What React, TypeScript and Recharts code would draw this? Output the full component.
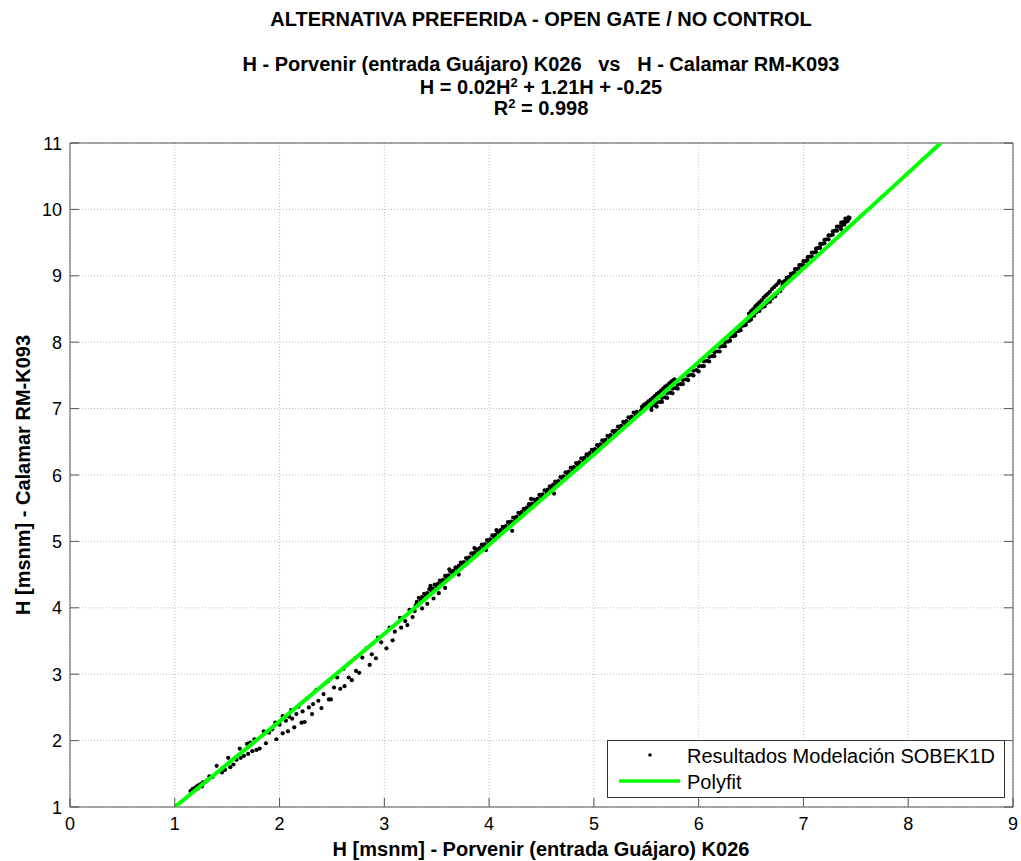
import React from "react";
import { ScatterChart, Scatter, XAxis, YAxis, CartesianGrid } from "recharts";

const W = 1021;
const H = 861;
const FONT = "'Liberation Sans', Arial, sans-serif";

const xTicks = [0, 1, 2, 3, 4, 5, 6, 7, 8, 9];
const yTicks = [1, 2, 3, 4, 5, 6, 7, 8, 9, 10, 11];

const titleMain = "ALTERNATIVA PREFERIDA - OPEN GATE / NO CONTROL";
const titleSeries = "H - Porvenir (entrada Guájaro) K026   vs   H - Calamar RM-K093";
const xLabel = "H [msnm] - Porvenir (entrada Guájaro) K026";
const yLabel = "H [msnm] - Calamar RM-K093";
const seriesPoints = "Resultados Modelación SOBEK1D";
const seriesFit = "Polyfit";

// sparse low-water cloud (two branches)
const lowCloud: [number, number][] = [
  [1.15, 1.24], [1.17, 1.27], [1.19, 1.29], [1.21, 1.31], [1.23, 1.33], [1.25, 1.35],
  [1.27, 1.37], [1.29, 1.38], [1.31, 1.4], [1.22, 1.28], [1.26, 1.31], [1.33, 1.46],
  [1.36, 1.45], [1.4, 1.62], [1.45, 1.52], [1.48, 1.56], [1.51, 1.74], [1.53, 1.6],
  [1.56, 1.64], [1.59, 1.71], [1.62, 1.88], [1.63, 1.74], [1.66, 1.77], [1.69, 1.95],
  [1.7, 1.8], [1.72, 1.97], [1.74, 1.84], [1.76, 2.02], [1.78, 1.86], [1.81, 1.88],
  [1.85, 2.14], [1.87, 1.96], [1.9, 2.12], [1.93, 2.17], [1.96, 2.27], [1.97, 2.02],
  [2.0, 2.24], [2.03, 2.37], [2.03, 2.11], [2.06, 2.3], [2.08, 2.14], [2.09, 2.36],
  [2.11, 2.46], [2.12, 2.33], [2.14, 2.2], [2.16, 2.4], [2.18, 2.51], [2.21, 2.27],
  [2.22, 2.44], [2.24, 2.28], [2.26, 2.63], [2.28, 2.5], [2.31, 2.4], [2.32, 2.55],
  [2.35, 2.76], [2.37, 2.6], [2.4, 2.49], [2.42, 2.7], [2.46, 2.89], [2.47, 2.62],
  [2.49, 2.62], [2.52, 2.8], [2.55, 2.95], [2.58, 2.78], [2.61, 3.08], [2.62, 2.82],
  [2.66, 2.95], [2.69, 2.91], [2.72, 3.24], [2.73, 3.05], [2.76, 3.02], [2.79, 3.25],
  [2.83, 3.39], [2.86, 3.14], [2.88, 3.3], [2.92, 3.24], [2.94, 3.55], [2.97, 3.48],
  [3.02, 3.39], [3.05, 3.7], [3.08, 3.51], [3.1, 3.64], [3.15, 3.85], [3.16, 3.7],
  [3.2, 3.8], [3.22, 3.74], [3.24, 3.97], [3.27, 3.86], [3.29, 3.95], [3.32, 4.04],
];

// dense band, above the fit
const bandLow: [number, number][] = [
  [3.3, 4.04], [3.35, 4.11], [3.4, 4.17], [3.45, 4.24], [3.5, 4.31], [3.55, 4.37],
  [3.6, 4.44], [3.65, 4.51], [3.7, 4.58], [3.75, 4.64], [3.8, 4.71], [3.85, 4.78],
  [3.9, 4.85], [3.95, 4.91], [4.0, 4.98], [4.05, 5.05], [4.1, 5.12], [4.15, 5.18],
  [4.2, 5.25], [4.25, 5.32], [4.3, 5.39], [4.35, 5.46], [4.4, 5.52], [4.45, 5.59],
  [4.5, 5.66], [4.55, 5.73], [4.6, 5.8], [4.65, 5.86], [4.7, 5.93], [4.75, 6.0],
  [4.8, 6.07], [4.85, 6.14], [4.9, 6.21], [4.95, 6.28], [5.0, 6.34], [5.05, 6.41],
  [5.1, 6.48], [5.15, 6.55], [5.2, 6.62], [5.25, 6.69], [5.3, 6.76], [5.35, 6.83],
  [5.4, 6.9], [5.45, 6.97], [5.5, 7.03],
];
const bandMid: [number, number][] = [
  [3.31, 4.09], [3.36, 4.16], [3.41, 4.22], [3.46, 4.29], [3.51, 4.36], [3.56, 4.42],
  [3.61, 4.49], [3.66, 4.56], [3.71, 4.63], [3.76, 4.69], [3.81, 4.76], [3.86, 4.83],
  [3.91, 4.9], [3.96, 4.96], [4.01, 5.03], [4.06, 5.1], [4.11, 5.17], [4.16, 5.23],
  [4.21, 5.3], [4.26, 5.37], [4.31, 5.44], [4.36, 5.51], [4.41, 5.57], [4.46, 5.64],
  [4.51, 5.71], [4.56, 5.78], [4.61, 5.85], [4.66, 5.91], [4.71, 5.98], [4.76, 6.05],
  [4.81, 6.12], [4.86, 6.19], [4.91, 6.26], [4.96, 6.33], [5.01, 6.39], [5.06, 6.46],
  [5.11, 6.53], [5.16, 6.6], [5.21, 6.67], [5.26, 6.74], [5.31, 6.81], [5.36, 6.88],
  [5.41, 6.95], [5.46, 7.02],
];
const bandHigh: [number, number][] = [
  [3.33, 4.15], [3.38, 4.21], [3.43, 4.28], [3.48, 4.35], [3.53, 4.41], [3.58, 4.48],
  [3.63, 4.55], [3.68, 4.61], [3.73, 4.68], [3.78, 4.75], [3.83, 4.82], [3.88, 4.88],
  [3.93, 4.95], [3.98, 5.02], [4.03, 5.09], [4.08, 5.15], [4.13, 5.22], [4.18, 5.29],
  [4.23, 5.36], [4.28, 5.43], [4.33, 5.49], [4.38, 5.56], [4.43, 5.63], [4.48, 5.7],
  [4.53, 5.77], [4.58, 5.83], [4.63, 5.9], [4.68, 5.97], [4.73, 6.04], [4.78, 6.11],
  [4.83, 6.18], [4.88, 6.25], [4.93, 6.31], [4.98, 6.38], [5.03, 6.45], [5.08, 6.52],
  [5.13, 6.59], [5.18, 6.66], [5.23, 6.73], [5.28, 6.8], [5.33, 6.87], [5.38, 6.94],
];
const bandStray: [number, number][] = [
  [3.36, 3.99], [3.41, 4.06], [3.47, 4.14], [3.52, 4.22], [3.58, 4.3], [3.44, 4.33],
  [3.62, 4.58], [3.71, 4.5], [3.86, 4.9], [3.97, 4.87], [4.07, 5.17], [4.22, 5.16],
  [4.4, 5.64], [4.62, 5.72],
];

// hook near 5.7 and the band running under the fit
const hookOne: [number, number][] = [
  [5.46, 7.03], [5.48, 7.06], [5.5, 7.08], [5.52, 7.11], [5.54, 7.13], [5.56, 7.16],
  [5.58, 7.19], [5.6, 7.22], [5.62, 7.24], [5.64, 7.27], [5.66, 7.3], [5.68, 7.33],
  [5.7, 7.35], [5.72, 7.38], [5.74, 7.41], [5.76, 7.43], [5.77, 7.44], [5.78, 7.41],
];
const bandUnder: [number, number][] = [
  [5.55, 7.03], [5.55, 6.98], [5.6, 7.09], [5.6, 7.03], [5.65, 7.16], [5.65, 7.1],
  [5.7, 7.23], [5.7, 7.16], [5.75, 7.3], [5.75, 7.23], [5.8, 7.36], [5.8, 7.3],
  [5.85, 7.43], [5.85, 7.37], [5.9, 7.5], [5.9, 7.43], [5.95, 7.57], [5.95, 7.5],
  [6.0, 7.64], [6.0, 7.56], [6.05, 7.71], [6.05, 7.64], [6.1, 7.78], [6.1, 7.71],
  [6.15, 7.85], [6.15, 7.79], [6.2, 7.93], [6.2, 7.86], [6.25, 8.0], [6.25, 7.94],
  [6.3, 8.08], [6.3, 8.02], [6.35, 8.15], [6.35, 8.1], [6.4, 8.23], [6.4, 8.18],
  [6.45, 8.3], [6.45, 8.26], [6.5, 8.38], [6.5, 8.34], [6.55, 8.45], [6.6, 8.52],
  [6.65, 8.59], [6.7, 8.66], [6.75, 8.74], [6.8, 8.82],
  [5.58, 7.05], [5.63, 7.1], [5.68, 7.17], [5.73, 7.24], [5.78, 7.31], [5.83, 7.37],
  [5.88, 7.44], [5.93, 7.51], [5.98, 7.58], [6.03, 7.64], [6.08, 7.72], [6.13, 7.79],
  [6.18, 7.86], [6.23, 7.94], [6.28, 8.01], [6.33, 8.09], [6.38, 8.17], [6.43, 8.25],
  [6.48, 8.32], [6.53, 8.4], [6.58, 8.47], [6.63, 8.54], [6.68, 8.61], [6.73, 8.69],
  [6.78, 8.77],
];
const hookTwo: [number, number][] = [
  [6.48, 8.43], [6.5, 8.47], [6.52, 8.5], [6.54, 8.54], [6.56, 8.57], [6.58, 8.6],
  [6.6, 8.63], [6.62, 8.67], [6.64, 8.7], [6.66, 8.73], [6.68, 8.76], [6.7, 8.8],
  [6.72, 8.83], [6.74, 8.86], [6.76, 8.89], [6.77, 8.92],
];
const bandTop: [number, number][] = [
  [6.8, 8.86], [6.8, 8.9], [6.84, 8.92], [6.84, 8.97], [6.88, 8.98], [6.88, 9.03],
  [6.92, 9.04], [6.92, 9.1], [6.96, 9.1], [6.96, 9.16], [7.0, 9.16], [7.0, 9.22],
  [7.04, 9.23], [7.04, 9.28], [7.08, 9.29], [7.08, 9.35], [7.12, 9.36], [7.12, 9.41],
  [7.16, 9.42], [7.16, 9.48], [7.2, 9.49], [7.2, 9.54], [7.24, 9.55], [7.24, 9.61],
  [7.28, 9.62], [7.28, 9.67], [7.32, 9.68], [7.32, 9.74], [7.36, 9.75], [7.36, 9.8],
  [7.4, 9.81], [7.4, 9.86], [7.43, 9.85], [7.43, 9.88], [7.36, 9.7], [7.39, 9.77],
  [7.42, 9.82], [7.44, 9.87],
  [6.82, 8.92], [6.86, 8.98], [6.9, 9.04], [6.94, 9.1], [6.98, 9.16], [7.02, 9.22],
  [7.06, 9.29], [7.1, 9.35], [7.14, 9.42], [7.18, 9.48], [7.22, 9.55], [7.26, 9.61],
  [7.3, 9.68], [7.34, 9.74], [7.38, 9.81], [7.41, 9.85],
];

// polyfit curve
const fitX = [1, 2, 3, 4, 5, 6, 7, 8, 8.31];
const fitY = [1.0, 2.29, 3.61, 4.95, 6.31, 7.7, 9.11, 10.55, 11.0];

const points = [
  ...lowCloud, ...bandLow, ...bandMid, ...bandHigh, ...bandStray,
  ...hookOne, ...bandUnder, ...hookTwo, ...bandTop,
].map(([x, y]) => ({ x, y }));
const fitData = fitX.map((x, i) => ({ x, y: fitY[i] }));

const AXIS = "#555";
const TICK_LEN = 9;

const Dot = (props: any) => {
  const { cx, cy } = props;
  if (cx == null || cy == null) return <g />;
  return <circle cx={cx} cy={cy} r={2.1} fill="#000" />;
};

const BottomTick = (props: any) => {
  const { x, y, payload } = props;
  return (
    <g>
      <line x1={x} x2={x} y1={y} y2={y - TICK_LEN} stroke={AXIS} />
      <text x={x} y={y + 23} textAnchor="middle" fontSize={18} fontFamily={FONT} fill="#000">
        {payload.value}
      </text>
    </g>
  );
};

const TopTick = (props: any) => {
  const { x, y } = props;
  return <line x1={x} x2={x} y1={y} y2={y + TICK_LEN} stroke={AXIS} />;
};

const LeftTick = (props: any) => {
  const { x, y, payload } = props;
  return (
    <g>
      <line x1={x} x2={x + TICK_LEN} y1={y} y2={y} stroke={AXIS} />
      <text x={x - 8} y={y + 6.5} textAnchor="end" fontSize={18} fontFamily={FONT} fill="#000">
        {payload.value}
      </text>
    </g>
  );
};

const RightTick = (props: any) => {
  const { x, y } = props;
  return <line x1={x} x2={x - TICK_LEN} y1={y} y2={y} stroke={AXIS} />;
};

const NoShape = () => <g />;

export default function App() {
  return (
    <div style={{ position: "absolute", left: 0, top: 0, width: W, height: H, background: "#fff" }}>
      <ScatterChart
        width={W}
        height={H}
        margin={{ top: 142, right: 7, bottom: 53, left: 69 }}
      >
        <CartesianGrid stroke="#bdbdbd" strokeDasharray="1 2" />
        <XAxis
          type="number"
          dataKey="x"
          domain={[0, 9]}
          ticks={xTicks}
          interval={0}
          height={1}
          tickSize={0}
          tickMargin={0}
          tickLine={false}
          tick={BottomTick}
          axisLine={{ stroke: AXIS }}
          allowDataOverflow
        />
        <XAxis
          xAxisId="top"
          orientation="top"
          type="number"
          domain={[0, 9]}
          ticks={xTicks}
          interval={0}
          height={1}
          tickSize={0}
          tickMargin={0}
          tickLine={false}
          tick={TopTick}
          axisLine={{ stroke: AXIS }}
          allowDataOverflow
        />
        <YAxis
          type="number"
          dataKey="y"
          domain={[1, 11]}
          ticks={yTicks}
          interval={0}
          width={1}
          tickSize={0}
          tickMargin={0}
          tickLine={false}
          tick={LeftTick}
          axisLine={{ stroke: AXIS }}
          allowDataOverflow
        />
        <YAxis
          yAxisId="right"
          orientation="right"
          type="number"
          domain={[1, 11]}
          ticks={yTicks}
          interval={0}
          width={1}
          tickSize={0}
          tickMargin={0}
          tickLine={false}
          tick={RightTick}
          axisLine={{ stroke: AXIS }}
          allowDataOverflow
        />
        <Scatter data={points} shape={Dot} isAnimationActive={false} />
        <Scatter
          data={fitData}
          shape={NoShape}
          line={{ stroke: "#00ff00", strokeWidth: 4 }}
          lineJointType="monotoneX"
          isAnimationActive={false}
        />
      </ScatterChart>

      <svg
        width={W}
        height={H}
        style={{ position: "absolute", left: 0, top: 0, pointerEvents: "none" }}
        fontFamily={FONT}
      >
        <text x={541} y={26} textAnchor="middle" fontSize={20} fontWeight="bold">
          {titleMain}
        </text>
        <text x={541} y={71} textAnchor="middle" fontSize={20} fontWeight="bold" style={{ whiteSpace: "pre" }}>
          {titleSeries}
        </text>
        <text x={541} y={94} textAnchor="middle" fontSize={20} fontWeight="bold">
          H = 0.02H
          <tspan dy={-7} fontSize={13}>2</tspan>
          <tspan dy={7}> + 1.21H + -0.25</tspan>
        </text>
        <text x={541} y={115} textAnchor="middle" fontSize={20} fontWeight="bold">
          R
          <tspan dy={-7} fontSize={13}>2</tspan>
          <tspan dy={7}> = 0.998</tspan>
        </text>

        <text x={541} y={856} textAnchor="middle" fontSize={20} fontWeight="bold">
          {xLabel}
        </text>
        <text
          x={0}
          y={0}
          transform="translate(30,475) rotate(-90)"
          textAnchor="middle"
          fontSize={20}
          fontWeight="bold"
        >
          {yLabel}
        </text>

        <rect x={607.5} y={740.5} width={397} height={57} fill="#fff" stroke="#333" />
        <circle cx={650} cy={755} r={1.8} fill="#000" />
        <text x={687} y={763} fontSize={20}>{seriesPoints}</text>
        <line x1={619} x2={680} y1={781} y2={781} stroke="#00ff00" strokeWidth={3.5} />
        <text x={687} y={789} fontSize={20}>{seriesFit}</text>
      </svg>
    </div>
  );
}
